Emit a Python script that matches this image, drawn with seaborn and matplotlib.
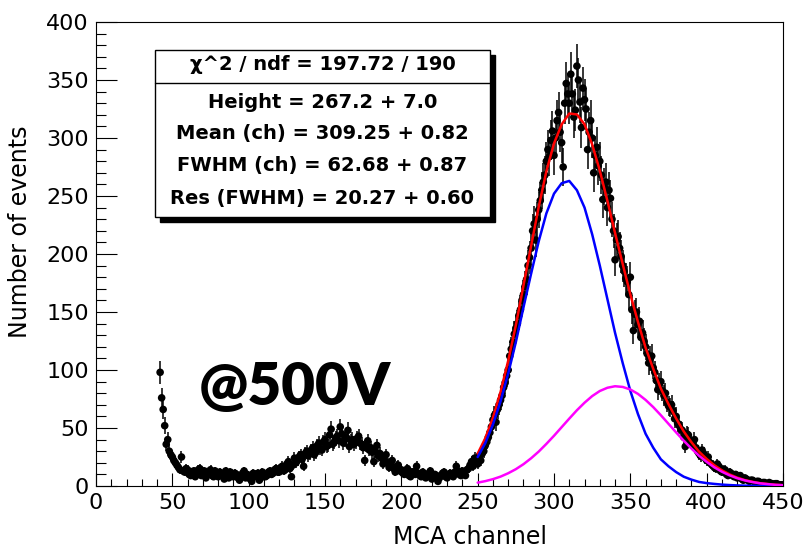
import matplotlib
matplotlib.use("Agg")
import matplotlib.pyplot as plt
import numpy as np
import pandas as pd
import seaborn as sns
from matplotlib.patches import Rectangle
from matplotlib.ticker import MultipleLocator

# histogram bins (one per MCA channel) and counts
channels = list(range(42, 451))
counts = [
    98, 76, 66, 52, 36, 40, 30, 27,
    25, 22, 20, 18, 16, 14, 25, 13, 12, 15,
    14, 10, 9, 12, 13, 8, 10, 14, 15, 9,
    11, 13, 7, 10, 12, 14, 9, 8, 13, 11,
    8, 12, 11, 9, 6, 13, 10, 7, 12, 10,
    8, 11, 10, 7, 5, 9, 11, 13, 7, 10,
    9, 6, 4, 11, 8, 10, 11, 5, 7, 12,
    10, 8, 9, 12, 13, 10, 11, 14, 15, 12,
    12, 16, 17, 13, 14, 19, 21, 15, 8, 18,
    24, 20, 22, 25, 27, 23, 17, 28, 30, 26,
    28, 31, 33, 27, 29, 35, 37, 32, 31, 38,
    40, 34, 35, 44, 49, 36, 38, 41, 43, 39,
    51, 45, 37, 40, 42, 48, 34, 39, 40, 36,
    38, 41, 43, 37, 36, 33, 22, 35, 39, 31,
    33, 29, 21, 30, 35, 26, 28, 24, 19, 22,
    27, 20, 16, 19, 22, 15, 12, 17, 18, 13,
    14, 11, 10, 13, 15, 9, 8, 12, 12, 10,
    17, 11, 9, 8, 12, 10, 7, 9, 11, 13,
    6, 8, 10, 9, 4, 7, 9, 11, 12, 8,
    7, 9, 11, 10, 8, 12, 17, 13, 10, 9,
    13, 11, 9, 14, 15, 18, 21, 17, 24, 22,
    19, 26, 22, 28, 30, 35, 38, 42, 46, 51,
    57, 61, 55, 66, 70, 74, 78, 85, 89, 95,
    100, 112, 118, 124, 131, 136, 140, 147, 152, 160,
    165, 172, 178, 190, 197, 205, 220, 226, 212, 230,
    238, 246, 255, 262, 268, 280, 290, 284, 298, 306,
    285, 300, 315, 322, 305, 296, 275, 330, 347, 338,
    330, 355, 338, 318, 324, 362, 350, 331, 309, 343,
    333, 325, 290, 305, 315, 300, 270, 285, 292, 276,
    280, 268, 247, 258, 262, 240, 255, 248, 230, 220,
    195, 212, 215, 205, 198, 190, 185, 179, 176, 165,
    180, 152, 134, 148, 150, 139, 142, 128, 132, 125,
    120, 114, 106, 110, 112, 102, 98, 91, 83, 88,
    90, 82, 78, 80, 72, 69, 68, 70, 65, 58,
    60, 54, 52, 49, 48, 42, 34, 45, 44, 39,
    38, 36, 40, 33, 30, 28, 26, 31, 28, 24,
    22, 25, 20, 19, 18, 16, 15, 19, 17, 13,
    12, 14, 14, 10, 9, 12, 11, 9, 8, 10,
    7, 8, 9, 6, 5, 7, 6, 5, 4, 5,
    5, 4, 3, 4, 4, 3, 2, 3, 3, 2,
    2, 3, 2, 2, 1, 2, 2, 1, 1, 1,
    1,
]

# fit components sampled along the fit range
fit_channels = list(range(250, 451, 5))
main_peak = [
    25, 37, 53, 73, 97, 124, 154, 183, 211, 235, 252, 261, 263, 255, 240,
    217, 190, 161, 132, 106, 82, 62, 45, 33, 23, 17, 12, 8, 5.5, 3.5, 2.5,
    1.8, 1.2, 0.8, 0.5, 0.3, 0.2, 0.1, 0.1, 0.05, 0.0,
]
second_peak = [
    2.9, 4.2, 5.9, 8.1, 11.0, 14.5, 18.8, 23.9, 29.7, 36.3, 43.3, 50.7, 58.1,
    65.3, 71.8, 77.5, 81.9, 84.7, 86.0, 85.4, 83.2, 79.4, 74.2, 68.0, 61.0,
    53.6, 46.2, 39.0, 32.3, 26.1, 20.8, 16.1, 12.3, 9.2, 6.7, 4.8, 3.4, 2.3,
    1.6, 1.0, 0.7,
]

stats_title = "\u03c7^2 / ndf = 197.72 / 190"
stats_lines = [
    "Height = 267.2 + 7.0",
    "Mean (ch) = 309.25 + 0.82",
    "FWHM (ch) = 62.68 + 0.87",
    "Res (FWHM) = 20.27 + 0.60",
]


def main():
    sns.set_style("ticks")
    plt.rcParams["font.family"] = ["DejaVu Sans"]
    for key in ["text.color", "axes.labelcolor", "xtick.color",
                "ytick.color", "axes.edgecolor"]:
        plt.rcParams[key] = "black"

    data = pd.DataFrame({"ch": channels, "n": counts})
    data = data[data["n"] > 0]
    fits = pd.DataFrame({
        "ch": fit_channels,
        "main": main_peak,
        "second": second_peak,
    })
    fits["total"] = fits["main"] + fits["second"]

    fig = plt.figure(figsize=(8.08, 5.52), dpi=100)
    ax = fig.add_axes([96 / 808, 1 - 486 / 552, 687 / 808, 464 / 552])

    ax.errorbar(data["ch"], data["n"], yerr=np.sqrt(data["n"]), fmt="none",
                ecolor="black", elinewidth=1.1, zorder=2)
    sns.scatterplot(data=data, x="ch", y="n", color="black", s=30,
                    edgecolor="none", ax=ax, zorder=3, legend=False)

    sns.lineplot(data=fits, x="ch", y="total", color="#ff0000", lw=1.8,
                 sort=False, estimator=None, ax=ax, zorder=4)
    sns.lineplot(data=fits, x="ch", y="main", color="#0000ff", lw=1.8,
                 sort=False, estimator=None, ax=ax, zorder=4)
    sns.lineplot(data=fits, x="ch", y="second", color="#ff00ff", lw=1.8,
                 sort=False, estimator=None, ax=ax, zorder=4)

    ax.set_xlim(0, 450)
    ax.set_ylim(0, 400)
    ax.xaxis.set_major_locator(MultipleLocator(50))
    ax.xaxis.set_minor_locator(MultipleLocator(10))
    ax.yaxis.set_major_locator(MultipleLocator(50))
    ax.yaxis.set_minor_locator(MultipleLocator(10))
    ax.tick_params(axis="x", which="major", direction="in", length=9.5,
                   width=0.8, labelsize=16, pad=5)
    ax.tick_params(axis="x", which="minor", direction="in", length=5,
                   width=0.8)
    ax.tick_params(axis="y", which="major", direction="in", length=15,
                   width=0.8, labelsize=16, pad=5)
    ax.tick_params(axis="y", which="minor", direction="in", length=7.5,
                   width=0.8)
    for side in ax.spines.values():
        side.set_visible(True)
        side.set_linewidth(0.8)
        side.set_color("black")

    ax.set_xlabel("MCA channel", fontsize=17)
    ax.set_ylabel("Number of events", fontsize=17)
    ax.xaxis.set_label_coords(0.544, -0.083)
    ax.yaxis.set_label_coords(-0.093, 0.547)

    # stats box with drop shadow
    x0, x1 = 155 / 808, 490 / 808
    y0, y1 = 1 - 217 / 552, 1 - 50 / 552
    fig.patches.append(Rectangle((x0 + 5 / 808, y0 - 5 / 552), x1 - x0,
                                 y1 - y0, transform=fig.transFigure,
                                 facecolor="black", edgecolor="black",
                                 zorder=5))
    fig.patches.append(Rectangle((x0, y0), x1 - x0, y1 - y0,
                                 transform=fig.transFigure, facecolor="white",
                                 edgecolor="black", lw=1.0, zorder=6))
    sep = 1 - 83 / 552
    fig.add_artist(plt.Line2D([x0, x1], [sep, sep], color="black", lw=1.0,
                              transform=fig.transFigure, zorder=7))
    xc = (x0 + x1) / 2
    fig.text(xc, 1 - 65 / 552, stats_title, ha="center", va="center",
             fontsize=14, fontweight="bold", zorder=8)
    for ypix, line in zip([103, 134, 166, 199], stats_lines):
        fig.text(xc, 1 - ypix / 552, line, ha="center", va="center",
                 fontsize=14, fontweight="bold", zorder=8)

    fig.text(199 / 808, 1 - 405 / 552, "@500V", ha="left", va="baseline",
             fontsize=42, fontweight="heavy", color="black",
             family=["Lato", "DejaVu Sans"])

    fig.savefig("out.png", dpi=100)


if __name__ == "__main__":
    main()
